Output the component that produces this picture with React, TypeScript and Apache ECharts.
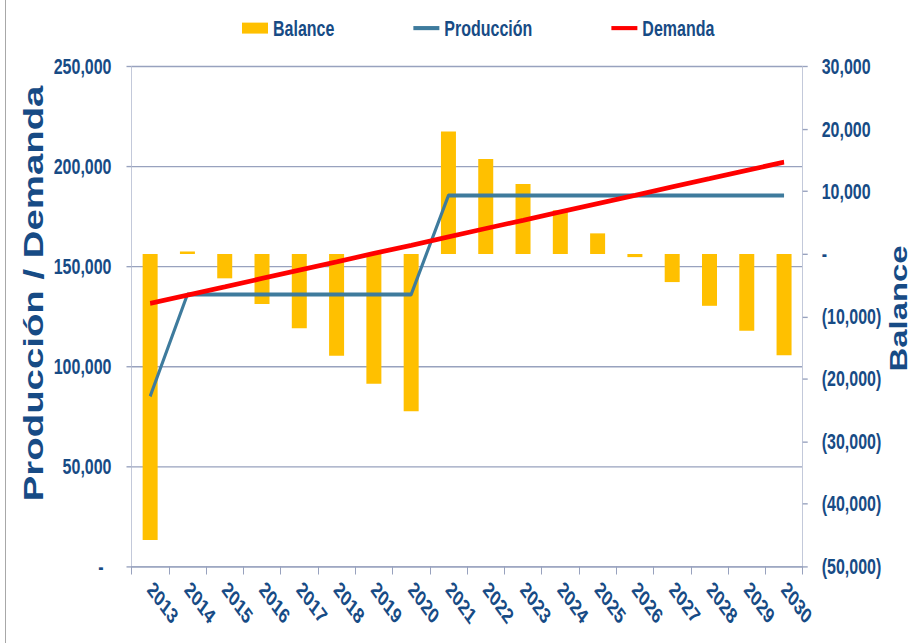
import React, { useEffect, useRef } from "react";
import * as echarts from "echarts";

const years = ["2013","2014","2015","2016","2017","2018","2019","2020","2021","2022","2023","2024","2025","2026","2027","2028","2029","2030"];
const balance = [-45800, 400, -3900, -8000, -11900, -16300, -20800, -25200, 19600, 15200, 11200, 7000, 3300, -500, -4500, -8300, -12300, -16200];
const produccion = [85000, 136000, 136000, 136000, 136000, 136000, 136000, 136000, 185500, 185500, 185500, 185500, 185500, 185500, 185500, 185500, 185500, 185500];
const demanda = [131500, 135700, 139800, 144000, 148200, 152300, 156500, 160600, 164800, 169000, 173100, 177300, 181500, 185600, 189800, 193900, 198100, 202200];
const leftTicks = { min: 0, max: 250000, interval: 50000 };
const rightTicks = { min: -50000, max: 30000, interval: 10000 };

const W = 912;
const H = 469;
const S = 643 / H;
const FONT = "'Liberation Sans', Arial, Helvetica, sans-serif";
const TXT = "#174B85";
const GRID = "#98A2BE";
const AXIS = "#C3C9DA";
const LINE_ICON = "path://M0,0 L26,0 L26,3 L0,3 Z";

function fmt(v: number): string {
  const s = Math.abs(v).toLocaleString("en-US");
  return v < 0 ? "(" + s + ")" : s;
}

export default function App() {
  const ref = useRef<HTMLDivElement>(null);
  useEffect(() => {
    if (!ref.current) return;
    const chart = echarts.init(ref.current, undefined, { renderer: "svg" });
    chart.setOption({
      animation: false,
      backgroundColor: "#ffffff",
      legend: {
        left: 237,
        top: 7.5,
        itemWidth: 26,
        itemHeight: 8,
        itemGap: 79,
        textStyle: { fontFamily: FONT, fontWeight: "bold", fontSize: 16, color: TXT },
        data: [
          { name: "Balance", icon: "rect" },
          { name: "Producción", icon: LINE_ICON },
          { name: "Demanda", icon: LINE_ICON },
        ],
      },
      grid: { left: 131.5, right: 109.3, top: 48.6, bottom: 56 },
      xAxis: {
        type: "category",
        data: years,
        axisLine: { lineStyle: { color: GRID, width: 1 } },
        axisTick: { show: true, alignWithLabel: false, length: 6, lineStyle: { color: GRID } },
        axisLabel: {
          interval: 0,
          rotate: -45,
          margin: 14,
          fontFamily: FONT,
          fontWeight: "bold",
          fontSize: 16,
          color: TXT,
        },
      },
      yAxis: [
        {
          type: "value",
          position: "left",
          min: leftTicks.min,
          max: leftTicks.max,
          interval: leftTicks.interval,
          axisLine: { show: true, lineStyle: { color: AXIS, width: 1 } },
          axisTick: { show: true, length: 5, lineStyle: { color: GRID } },
          splitLine: { show: true, lineStyle: { color: GRID, width: 1 } },
          axisLabel: {
            margin: 20,
            fontFamily: FONT,
            fontWeight: "bold",
            fontSize: 16,
            color: TXT,
            formatter: (v: number) => (v === 0 ? "{d|-}" : fmt(v)),
            rich: { d: { fontFamily: FONT, fontWeight: "bold", fontSize: 16, color: TXT, padding: [0, 8, 0, 0] } },
          },
        },
        {
          type: "value",
          position: "right",
          min: rightTicks.min,
          max: rightTicks.max,
          interval: rightTicks.interval,
          axisLine: { show: true, lineStyle: { color: AXIS, width: 1 } },
          axisTick: { show: true, length: 5, lineStyle: { color: GRID } },
          splitLine: { show: false },
          axisLabel: {
            margin: 19,
            fontFamily: FONT,
            fontWeight: "bold",
            fontSize: 16,
            color: TXT,
            formatter: (v: number) => (v === 0 ? "-" : fmt(v)),
          },
        },
      ],
      series: [
        {
          name: "Balance",
          type: "bar",
          yAxisIndex: 1,
          data: balance,
          barWidth: 15,
          itemStyle: { color: "#FFC000" },
        },
        {
          name: "Producción",
          type: "line",
          yAxisIndex: 0,
          data: produccion,
          symbol: "none",
          lineStyle: { color: "#3E7B9D", width: 3 },
          itemStyle: { color: "#3E7B9D" },
        },
        {
          name: "Demanda",
          type: "line",
          yAxisIndex: 0,
          data: demanda,
          symbol: "none",
          lineStyle: { color: "#FF0000", width: 3.5 },
          itemStyle: { color: "#FF0000" },
        },
      ],
      graphic: [
        { type: "line", shape: { x1: 5.5, y1: 0, x2: 5.5, y2: H }, style: { stroke: "#A8A8A8", lineWidth: 1 } },
        {
          type: "text",
          x: 33,
          y: 214,
          rotation: Math.PI / 2,
          style: { text: "Producción / Demanda", fill: TXT, font: "bold 28px " + FONT, align: "center", verticalAlign: "middle" },
        },
        {
          type: "text",
          x: 899,
          y: 225,
          rotation: Math.PI / 2,
          style: { text: "Balance", fill: TXT, font: "bold 24px " + FONT, align: "center", verticalAlign: "middle" },
        },
      ],
    });
    return () => chart.dispose();
  }, []);
  return (
    <div style={{ position: "fixed", left: 0, top: 0, width: W, height: 643, overflow: "hidden", background: "#fff" }}>
      <div
        ref={ref}
        style={{ width: W, height: H, transform: `scaleY(${S})`, transformOrigin: "0 0" }}
      />
    </div>
  );
}
